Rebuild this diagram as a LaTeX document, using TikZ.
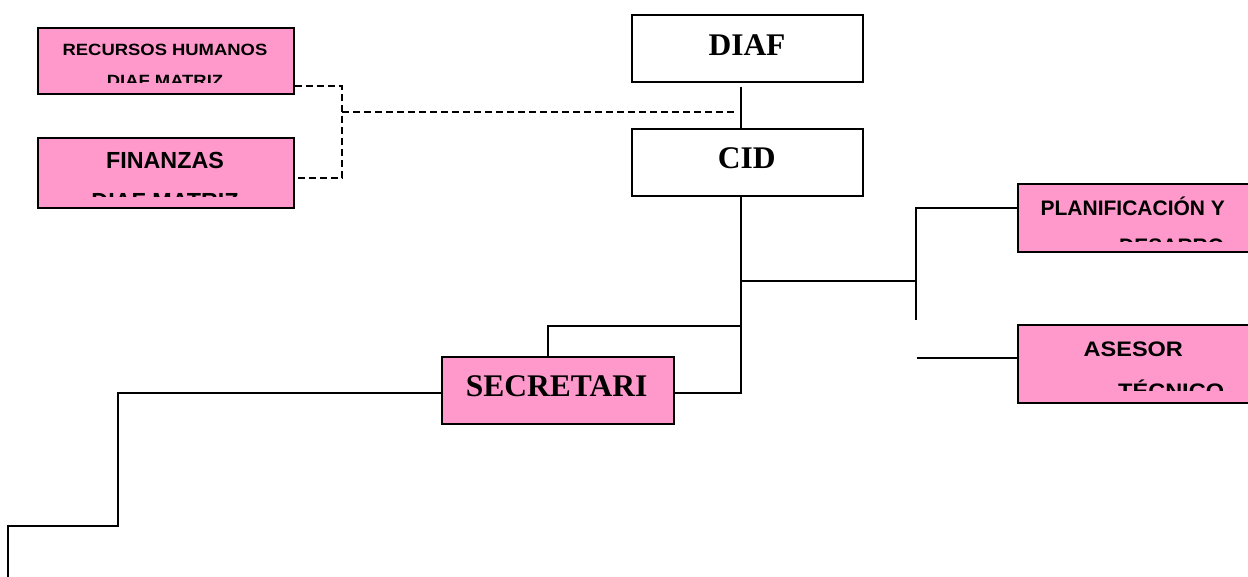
\documentclass[tikz,border=0pt]{standalone}
\usepackage{fontspec}
\setmainfont{Liberation Serif}
\newfontfamily\arialfont{Liberation Sans}
\definecolor{pinkfill}{HTML}{FF99CC}
\begin{document}
\begin{tikzpicture}[x=1pt,y=-1pt,
  box/.style={draw, line width=2pt, fill=white, inner sep=0pt, anchor=north west},
  pinkbox/.style={box, fill=pinkfill},
  conn/.style={line width=2pt},
  dconn/.style={line width=2pt, dash pattern=on 7pt off 4pt},
  serif/.style={font=\bfseries\fontsize{31.5}{31.5}\selectfont, inner sep=0pt, anchor=base},
  sansA/.style={font=\arialfont\bfseries\fontsize{16.3}{16.3}\selectfont, inner sep=0pt, anchor=base},
  sansB/.style={font=\arialfont\bfseries\fontsize{23.3}{23.3}\selectfont, inner sep=0pt, anchor=base},
  sansC/.style={font=\arialfont\bfseries\fontsize{21}{21}\selectfont, inner sep=0pt, anchor=base},
  ]
\useasboundingbox (0,0) rectangle (1248,576);

% white boxes
\node[box, minimum width=231.6pt, minimum height=67pt] (diaf) at (630.7,14) {};
\node[serif] (diaft) at (747,55) {DIAF};
\node[box, minimum width=231.6pt, minimum height=67.3pt] (cid) at (630.7,127.7) {};
\node[serif] (cidt) at (746.8,168.3) {CID};

% pink boxes
\node[pinkbox, minimum width=231.7pt, minimum height=66.7pt] (sec) at (441,356) {};
\node[serif] (sect) at (556.7,396.7) {SECRETARI};

\node[pinkbox, minimum width=256.6pt, minimum height=66.6pt] (rh) at (36.7,26.7) {};
\begin{scope}
  \clip (38,28) rectangle (292,82.3);
  \node[sansA] (rht1) at (165,55) {\scalebox{1.13}[1]{RECURSOS HUMANOS}};
  \node[sansA] (rht2) at (165,86.7) {\scalebox{1.13}[1]{DIAF MATRIZ}};
\end{scope}

\node[pinkbox, minimum width=256.3pt, minimum height=70.3pt] (fin) at (36.7,136.7) {};
\begin{scope}
  \clip (38,138) rectangle (292,196.7);
  \node[sansB] (fint1) at (165,168.3) {FINANZAS};
  \node[sansB] (fint2) at (165,209.3) {DIAF MATRIZ};
\end{scope}

\node[pinkbox, minimum width=240pt, minimum height=67.4pt] (plan) at (1017,183.3) {};
\begin{scope}
  \clip (1018,184.5) rectangle (1248,241.7);
  \node[sansC] (plant1) at (1132.8,215) {PLANIFICACIÓN Y};
  \node[sansC, anchor=base west] (plant2) at (1119,253.3) {DESARRO};
\end{scope}

\node[pinkbox, minimum width=240pt, minimum height=77.7pt] (ases) at (1017,324) {};
\begin{scope}
  \clip (1018,325) rectangle (1248,390.7);
  \node[sansC] (asest1) at (1133.3,356.7) {\scalebox{1.12}[1]{ASESOR}};
  \node[sansC, anchor=base west] (asest2) at (1118,398.3) {\scalebox{1.12}[1]{TÉCNICO}};
\end{scope}

% connector coordinates
\coordinate (d1) at (740.7,86.7);
\coordinate (j1) at (740.7,393);
\coordinate (j2) at (740.7,280.7);
\coordinate (j3) at (740.7,325.7);
\coordinate (b1) at (916,280.7);
\coordinate (b2) at (916,208);
\coordinate (b3) at (916,320);
\coordinate (b4) at (916.7,357.7);
\coordinate (s1) at (548,325.7);
\coordinate (l1) at (118.3,393);
\coordinate (l2) at (118.3,525.7);
\coordinate (l3) at (7.7,525.7);
\coordinate (l4) at (7.7,580);
\coordinate (dA) at (342,86);
\coordinate (dB) at (342,178);
\coordinate (dM) at (342,111.7);
\coordinate (dE) at (735,111.7);

% solid connectors
\draw[conn] (d1) -- (d1 |- cid.north);
\draw[conn] (d1 |- cid.south) -- (j1) -- (sec.east |- j1);
\draw[conn] (j2) -- (b1);
\draw[conn] (b3) -- (b2) -- (plan.west |- b2);
\draw[conn] (b4) -- (ases.west |- b4);
\draw[conn] (j3) -- (s1) -- (s1 |- sec.north);
\draw[conn] (sec.west |- j1) -- (l1) -- (l2) -- (l3) -- (l4);

% dashed connectors
\draw[dconn] (rh.east |- dA) -- (dA) -- (dB) -- (fin.east |- dB);
\draw[dconn] (dM) -- (dE);
\end{tikzpicture}
\end{document}
